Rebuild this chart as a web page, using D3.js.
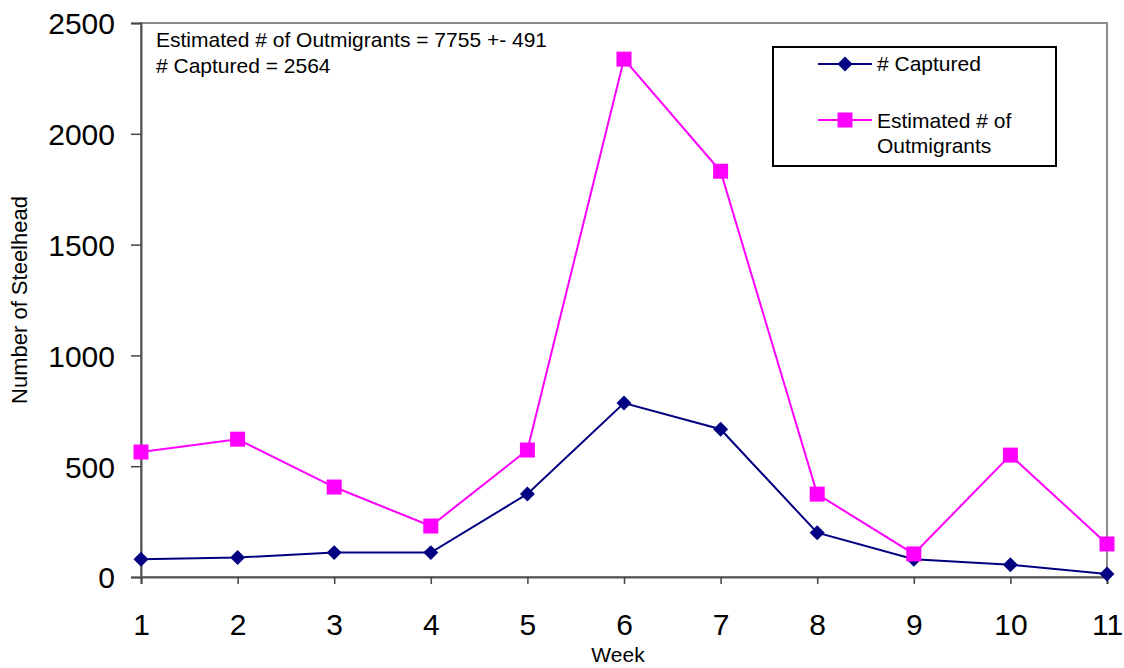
<!DOCTYPE html>
<html>
<head>
<meta charset="utf-8">
<script src="https://cdn.jsdelivr.net/npm/d3@7"></script>
<style>
body { margin: 0; background: #fff; }
svg text { font-family: "Liberation Sans", Arial, sans-serif; fill: #000; }
</style>
</head>
<body>
<script>
// chart values
var weeks = [1, 2, 3, 4, 5, 6, 7, 8, 9, 10, 11];
var captured = [80, 88, 110, 110, 375, 785, 667, 200, 80, 55, 14];
var estimated = [564, 622, 406, 230, 573, 2337, 1831, 374, 104, 550, 149];
var yTicks = [0, 500, 1000, 1500, 2000, 2500];
var notes = ["Estimated # of Outmigrants = 7755 +- 491", "# Captured = 2564"];

var width = 1124, height = 668;
var margin = { top: 23, right: 17, bottom: 91, left: 141 };

var svg = d3.select("body").append("svg")
    .attr("width", width)
    .attr("height", height);

var x = d3.scaleLinear()
    .domain([1, 11])
    .range([margin.left, width - margin.right]);

var y = d3.scaleLinear()
    .domain([0, 2500])
    .range([height - margin.bottom, margin.top]);

// plot frame
svg.append("rect")
    .attr("x", margin.left)
    .attr("y", margin.top)
    .attr("width", width - margin.right - margin.left)
    .attr("height", height - margin.bottom - margin.top)
    .attr("fill", "none")
    .attr("stroke", "#8c8c8c")
    .attr("stroke-width", 2);

// y axis
var yAxis = d3.axisLeft(y).tickValues(yTicks).tickFormat(d3.format("d")).tickSize(10).tickPadding(16);
var gy = svg.append("g")
    .attr("transform", "translate(" + margin.left + ",0)")
    .call(yAxis);
gy.selectAll("text").style("font-size", "30px").attr("dy", "0.36em");

// x axis
var xAxis = d3.axisBottom(x).tickValues(weeks).tickFormat(d3.format("d")).tickSize(7).tickPadding(30);
var gx = svg.append("g")
    .attr("transform", "translate(0," + y(0) + ")")
    .call(xAxis);
gx.selectAll("text").style("font-size", "30px");

svg.selectAll(".domain").attr("stroke", "#555").attr("stroke-width", 2);
svg.selectAll(".tick line").attr("stroke", "#444").attr("stroke-width", 1.5);

// axis titles
svg.append("text")
    .attr("x", (margin.left + width - margin.right) / 2 - 6)
    .attr("y", 662)
    .attr("text-anchor", "middle")
    .style("font-size", "21px")
    .text("Week");

svg.append("text")
    .attr("transform", "translate(27," + 300 + ") rotate(-90)")
    .attr("text-anchor", "middle")
    .style("font-size", "22px")
    .text("Number of Steelhead");

// lines
var line = d3.line()
    .x(function(d, i) { return x(weeks[i]); })
    .y(function(d) { return y(d); });

svg.append("path")
    .datum(captured)
    .attr("d", line)
    .attr("fill", "none")
    .attr("stroke", "#000080")
    .attr("stroke-width", 2);

svg.append("path")
    .datum(estimated)
    .attr("d", line)
    .attr("fill", "none")
    .attr("stroke", "#ff00ff")
    .attr("stroke-width", 2);

var diamond = d3.symbol().type(d3.symbolSquare).size(112);

svg.selectAll(".cap")
    .data(captured)
    .enter().append("path")
    .attr("class", "cap")
    .attr("transform", function(d, i) { return "translate(" + x(weeks[i]) + "," + y(d) + ") rotate(45)"; })
    .attr("d", diamond)
    .attr("fill", "#000080");

svg.selectAll(".est")
    .data(estimated)
    .enter().append("rect")
    .attr("class", "est")
    .attr("x", function(d, i) { return x(weeks[i]) - 7.5; })
    .attr("y", function(d) { return y(d) - 7.5; })
    .attr("width", 15)
    .attr("height", 15)
    .attr("fill", "#ff00ff");

// annotation
svg.selectAll(".note")
    .data(notes)
    .enter().append("text")
    .attr("class", "note")
    .attr("x", 156)
    .attr("y", function(d, i) { return 47 + i * 26; })
    .style("font-size", "21px")
    .text(function(d) { return d; });

// legend
var lg = svg.append("g").attr("transform", "translate(773,47)");
lg.append("rect")
    .attr("width", 283)
    .attr("height", 119)
    .attr("fill", "#fff")
    .attr("stroke", "#000")
    .attr("stroke-width", 2);

lg.append("line").attr("x1", 45).attr("x2", 99).attr("y1", 17).attr("y2", 17)
    .attr("stroke", "#000080").attr("stroke-width", 2);
lg.append("path")
    .attr("transform", "translate(72,17) rotate(45)")
    .attr("d", diamond)
    .attr("fill", "#000080");
lg.append("text").attr("x", 104).attr("y", 24).style("font-size", "21px").text("# Captured");

lg.append("line").attr("x1", 45).attr("x2", 99).attr("y1", 73).attr("y2", 73)
    .attr("stroke", "#ff00ff").attr("stroke-width", 2);
lg.append("rect").attr("x", 64.5).attr("y", 65.5).attr("width", 15).attr("height", 15)
    .attr("fill", "#ff00ff");
lg.append("text").attr("x", 104).attr("y", 81).style("font-size", "21px").text("Estimated # of");
lg.append("text").attr("x", 104).attr("y", 106).style("font-size", "21px").text("Outmigrants");
</script>
</body>
</html>
